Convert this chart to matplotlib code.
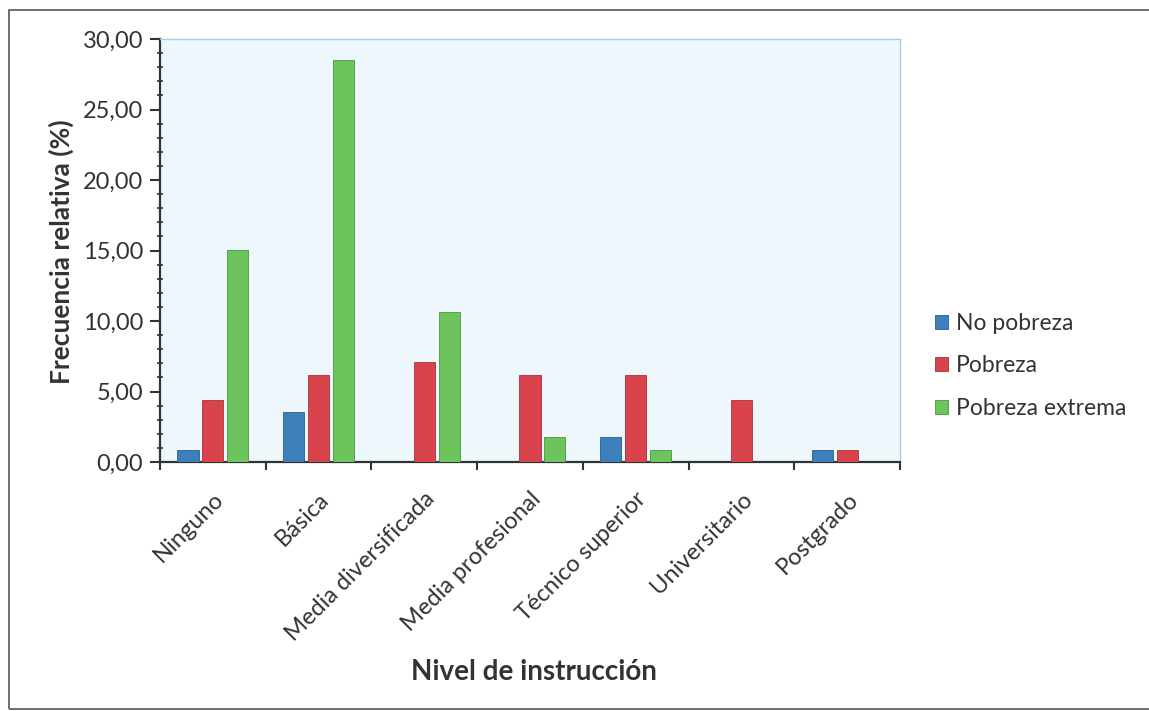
import matplotlib
matplotlib.use("Agg")
import matplotlib.pyplot as plt
import numpy as np
from matplotlib.ticker import MultipleLocator, FuncFormatter
from matplotlib.patches import Rectangle

categorias = ["Ninguno", "Básica", "Media diversificada", "Media profesional",
              "Técnico superior", "Universitario", "Postgrado"]
no_pobreza = [0.88, 3.54, 0.0, 0.0, 1.77, 0.0, 0.88]
pobreza = [4.42, 6.19, 7.08, 6.19, 6.19, 4.42, 0.88]
pobreza_extrema = [15.04, 28.50, 10.62, 1.77, 0.88, 0.0, 0.0]
series = ["No pobreza", "Pobreza", "Pobreza extrema"]

plt.rcParams["font.family"] = ["Lato", "DejaVu Sans"]

W, H = 1149, 711
fig = plt.figure(figsize=(W / 100, H / 100), dpi=100)
fig.patch.set_facecolor("white")

# outer frame of the chart
fig.add_artist(Rectangle((9 / W, 1 - 709 / H), 1160 / W, 699 / H,
                         transform=fig.transFigure, fill=False,
                         edgecolor="#555555", linewidth=1.2))

ax = fig.add_axes([160 / W, 1 - 462 / H, 740 / W, 423 / H])
ax.set_facecolor("#eef8fc")

colores = ["#3b80bb", "#d8434c", "#6dc35c"]
bordes = ["#2a5f8c", "#a8323a", "#4e9440"]
x = np.arange(len(categorias))
ancho = 0.2
sep = 0.235
for i, (vals, c, e, nombre) in enumerate(zip([no_pobreza, pobreza, pobreza_extrema],
                                              colores, bordes, series)):
    ax.bar(x + (i - 1) * sep, vals, width=ancho, color=c, edgecolor=e,
           linewidth=0.6, label=nombre, zorder=3)

ax.set_xlim(-0.5, len(categorias) - 0.5)
ax.set_ylim(0, 30)
ax.yaxis.set_major_locator(MultipleLocator(5))
ax.yaxis.set_minor_locator(MultipleLocator(1))
ax.yaxis.set_major_formatter(FuncFormatter(lambda v, p: f"{v:.2f}".replace(".", ",")))

ax.set_xticks(np.arange(len(categorias) + 1) - 0.5, minor=False)
ax.set_xticklabels([])
ax.set_xticks(x, minor=True)
ax.set_xticklabels(categorias, minor=True, rotation=45, ha="right",
                   va="top", rotation_mode="anchor", fontsize=17,
                   color="#333333")
ax.tick_params(axis="x", which="minor", length=0, pad=19)
ax.tick_params(axis="x", which="major", length=6, width=1.5, direction="out",
               color="#333333")
ax.tick_params(axis="y", which="major", length=7, width=1.5, direction="out",
               color="#333333", labelsize=17, labelcolor="#333333", pad=5)
ax.tick_params(axis="y", which="minor", length=4, width=1.2, direction="inout",
               color="#333333")

for s in ["left", "bottom"]:
    ax.spines[s].set_color("#333333")
    ax.spines[s].set_linewidth(1.6)
for s in ["top", "right"]:
    ax.spines[s].set_color("#9fd0e6")
    ax.spines[s].set_linewidth(1.0)

fig.text(61 / W, 1 - 252 / H, "Frecuencia relativa (%)", fontsize=19,
         fontweight="bold", color="#333333", ha="center", va="center",
         rotation=90)
fig.text(534 / W, 1 - 672 / H, "Nivel de instrucción", fontsize=20,
         fontweight="bold", color="#333333", ha="center", va="center")

leg = ax.legend(loc="center left", bbox_to_anchor=(924 / W, 1 - 366 / H),
                bbox_transform=fig.transFigure, frameon=False, fontsize=16.5,
                handlelength=0.55, handleheight=0.55, handletextpad=0.35,
                labelspacing=0.95, borderpad=0)
for t in leg.get_texts():
    t.set_color("#333333")

fig.savefig("out.png", dpi=100)
